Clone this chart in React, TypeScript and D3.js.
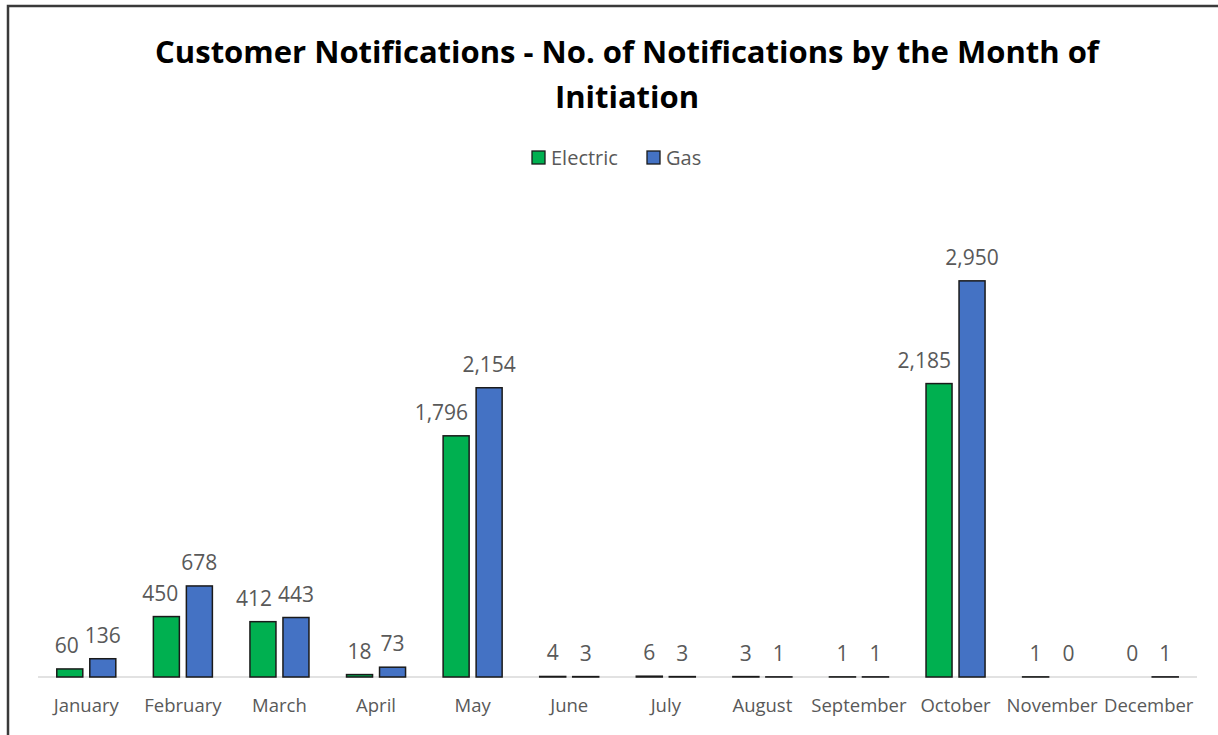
import React, { useEffect, useRef } from 'react';
import * as d3 from 'd3';

const months = ['January', 'February', 'March', 'April', 'May', 'June', 'July', 'August', 'September', 'October', 'November', 'December'];
const seriesNames = ['Electric', 'Gas'];
const electric = [60, 450, 412, 18, 1796, 4, 6, 3, 1, 2185, 1, 0];
const gas = [136, 678, 443, 73, 2154, 3, 3, 1, 1, 2950, 0, 1];
const seriesColors = ['#00B050', '#4472C4'];

const titleLines = ['Customer Notifications - No. of Notifications by the Month of', 'Initiation'];

const W = 1218;
const H = 735;
const FONT = "'Open Sans', 'Noto Sans', sans-serif";
const LABEL_SIZE = 21;

const App = () => {
    const ref = useRef<SVGSVGElement>(null);

    useEffect(() => {
        const svg = d3.select(ref.current);
        svg.selectAll('*').remove();

        const margin = { left: 38, right: 21, top: 207, bottom: 58 };
        const baseY = H - margin.bottom;

        svg.append('rect')
            .attr('width', W).attr('height', H).attr('fill', '#fff');

        // frame of the chart area (cut off on the right and bottom)
        svg.append('rect')
            .attr('x', 8).attr('y', 6)
            .attr('width', W + 50).attr('height', H + 50)
            .attr('fill', 'none')
            .attr('stroke', '#3a3a3a')
            .attr('stroke-width', 2.5);

        const x0 = d3.scaleBand()
            .domain(months)
            .range([margin.left, W - margin.right])
            .padding(0);
        const x1 = d3.scaleBand()
            .domain(seriesNames)
            .range([0, x0.bandwidth()])
            .paddingInner(0.212)
            .paddingOuter(0.569);
        const y = d3.scaleLinear()
            .domain([0, 3500])
            .range([baseY, margin.top]);

        // title
        svg.append('g')
            .selectAll('text')
            .data(titleLines)
            .enter()
            .append('text')
            .attr('x', 627)
            .attr('y', (d, i) => 63 + i * 45)
            .attr('text-anchor', 'middle')
            .attr('font-family', FONT)
            .attr('font-weight', 'bold')
            .attr('font-size', 31)
            .attr('fill', '#000')
            .text(d => d);

        // legend
        const legendX = [532, 647];
        const legend = svg.append('g')
            .selectAll('g')
            .data(seriesNames)
            .enter()
            .append('g')
            .attr('transform', (d, i) => `translate(${legendX[i]},151)`);
        legend.append('rect')
            .attr('width', 13).attr('height', 13)
            .attr('fill', (d, i) => seriesColors[i])
            .attr('stroke', '#1a1a1a')
            .attr('stroke-width', 1.3);
        legend.append('text')
            .attr('x', 19).attr('y', 14)
            .attr('font-family', FONT)
            .attr('font-size', 20)
            .attr('fill', '#595959')
            .text(d => d);

        // axis line
        svg.append('line')
            .attr('x1', margin.left).attr('x2', W - margin.right)
            .attr('y1', baseY).attr('y2', baseY)
            .attr('stroke', '#d9d9d9')
            .attr('stroke-width', 1.3);

        // category labels
        svg.append('g')
            .selectAll('text')
            .data(months)
            .enter()
            .append('text')
            .attr('x', d => x0(d) + x0.bandwidth() / 2)
            .attr('y', 712)
            .attr('text-anchor', 'middle')
            .attr('font-family', FONT)
            .attr('font-size', 18.5)
            .attr('fill', '#595959')
            .text(d => d);

        const values = [electric, gas];
        const fmt = d3.format(',');
        const labelNodes: SVGTextElement[][] = [[], []];

        seriesNames.forEach((s, si) => {
            const g = svg.append('g');
            const data = months.map((m, i) => ({ m, i, v: values[si][i] }));

            g.selectAll('rect')
                .data(data.filter(d => d.v > 0))
                .enter()
                .append('rect')
                .attr('x', d => x0(d.m) + x1(s))
                .attr('y', d => y(d.v))
                .attr('width', x1.bandwidth())
                .attr('height', d => baseY - y(d.v))
                .attr('fill', seriesColors[si])
                .attr('stroke', '#1a1a1a')
                .attr('stroke-width', 1.5);

            g.selectAll('text')
                .data(data)
                .enter()
                .append('text')
                .attr('x', d => x0(d.m) + x1(s) + x1.bandwidth() / 2)
                .attr('y', d => y(d.v) - 16)
                .attr('text-anchor', 'middle')
                .attr('font-family', FONT)
                .attr('font-size', LABEL_SIZE)
                .attr('fill', '#595959')
                .text(d => fmt(d.v))
                .each(function (d) { labelNodes[si][d.i] = this as SVGTextElement; });
        });

        // nudge electric labels left when they run into the gas bar or gas label
        months.forEach((m, i) => {
            const node = labelNodes[0][i];
            const w = node.getComputedTextLength();
            const cx = x0(m) + x1('Electric') + x1.bandwidth() / 2;
            const ly = y(electric[i]) - 16;
            let limit = Infinity;
            if (y(gas[i]) < ly) limit = x0(m) + x1('Gas') - 8;
            const gNode = labelNodes[1][i];
            const gw = gNode.getComputedTextLength();
            const gy = y(gas[i]) - 16;
            const gcx = x0(m) + x1('Gas') + x1.bandwidth() / 2;
            if (Math.abs(gy - ly) < LABEL_SIZE * 0.8 && gcx - gw / 2 - 5 < cx + w / 2) {
                limit = Math.min(limit, gcx - gw / 2 - 6);
            }
            if (cx + w / 2 > limit) {
                d3.select(node).attr('x', limit - w / 2);
            }
        });
    }, []);

    return (
        <svg ref={ref} width={W} height={H}
            style={{ position: 'absolute', left: 0, top: 0, display: 'block' }}></svg>
    );
};

export default App;
